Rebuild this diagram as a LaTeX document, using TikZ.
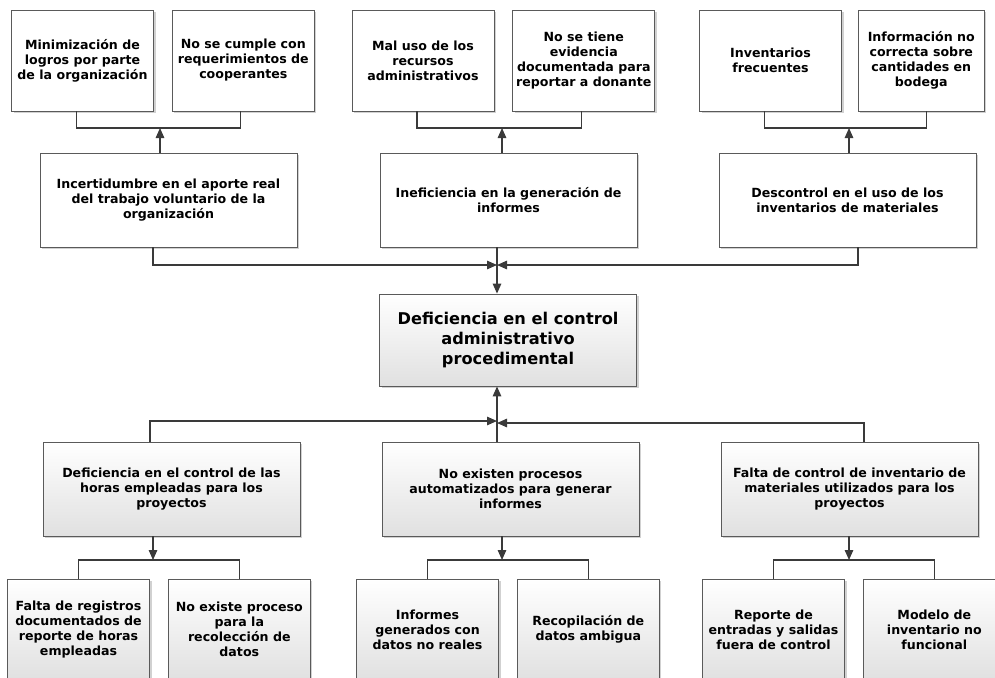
\documentclass[tikz,border=0pt]{standalone}
\usepackage{fontspec}
\setmainfont{DejaVu Sans}
\usetikzlibrary{arrows.meta,positioning,shadows}
\definecolor{linegray}{HTML}{3A3A3A}
\definecolor{boxgray}{HTML}{5A5A5A}

\begin{document}
\begin{tikzpicture}[x=1pt,y=-1pt,
      smallbox/.style={
         draw=boxgray,
         line width=0.8pt,
         fill=white,
         align=center,
         inner sep=1pt,
         minimum width=142pt,
         minimum height=101pt,
         font=\bfseries\fontsize{12.6}{15}\selectfont,
         drop shadow={shadow xshift=2pt,shadow yshift=-2pt,fill=black,opacity=0.18}},
      widebox/.style={smallbox,minimum width=257pt,minimum height=94pt},
      shadedbox/.style={top color=white,bottom color=black!12},
      mainbox/.style={widebox,shadedbox,minimum height=92pt,
         font=\bfseries\fontsize{16.2}{20}\selectfont},
      myarrow/.style={-{Triangle[length=10pt,width=8.5pt]}},
      link/.style={draw=linegray,line width=1.3pt},
      node distance=18pt
      ]
      \useasboundingbox (0,0) rectangle (995,677);
      \clip (0,0) rectangle (995,677);

      % effects
      \node[smallbox] (eA1) at (82.5,60.5) {Minimización de\\logros por parte\\de la organización};
      \node[smallbox,right=of eA1] (eA2) {No se cumple con\\requerimientos de\\cooperantes};
      \node[smallbox] (eB1) at (423,60.5) {Mal uso de los\\recursos\\administrativos};
      \node[smallbox,right=of eB1] (eB2) {No se tiene\\evidencia\\documentada para\\reportar a donante};
      \node[smallbox] (eC1) at (770.5,60.5) {Inventarios\\frecuentes};
      \node[smallbox,minimum width=126pt,right=16pt of eC1] (eC2) {Información no\\correcta sobre\\cantidades en\\bodega};

      \node[widebox] (cA) at (168.5,200) {Incertidumbre en el aporte real\\del trabajo voluntario de la\\organización};
      \node[widebox] (cB) at (508.5,200) {Ineficiencia en la generación de\\informes};
      \node[widebox] (cC) at (847.5,200) {Descontrol en el uso de los\\inventarios de materiales};

      % problem
      \node[mainbox] (core) at (508,340) {Deficiencia en el control\\administrativo\\procedimental};

      % causes
      \node[widebox,shadedbox] (rA) at (171.5,489) {Deficiencia en el control de las\\horas empleadas para los\\proyectos};
      \node[widebox,shadedbox] (rB) at (510.5,489) {No existen procesos\\automatizados para generar\\informes};
      \node[widebox,shadedbox] (rC) at (849.5,489) {Falta de control de inventario de\\materiales utilizados para los\\proyectos};

      \node[smallbox,shadedbox] (lA1) at (78.5,629.5) {Falta de registros\\documentados de\\reporte de horas\\empleadas};
      \node[smallbox,shadedbox,right=of lA1] (lA2) {No existe proceso\\para la\\recolección de\\datos};
      \node[smallbox,shadedbox] (lB1) at (427.5,629.5) {Informes\\generados con\\datos no reales};
      \node[smallbox,shadedbox,right=of lB1] (lB2) {Recopilación de\\datos ambigua};
      \node[smallbox,shadedbox] (lC1) at (773.5,629.5) {Reporte de\\entradas y salidas\\fuera de control};
      \node[smallbox,shadedbox,right=of lC1] (lC2) {Modelo de\\inventario no\\funcional};

      \coordinate (jA) at (160,128);
      \coordinate (jB) at (502,128);
      \coordinate (jC) at (849,128);
      \coordinate (jtop) at (497,265);
      \coordinate (jbot) at (497,422);
      \coordinate (kA) at (153,560);
      \coordinate (kB) at (502,560);
      \coordinate (kC) at (849,560);

    \foreach \l/\r/\j/\c/\dl/\dr in {% left/right/junction/from/shifts
      eA1/eA2/jA/cA/-6/-3,
      eB1/eB2/jB/cB/-6/-2,
      eC1/eC2/jC/cC/-6/5}
      {
       \draw[link] ([xshift=\dl pt]\l.south) |- (\j) -| ([xshift=\dr pt]\r.south);
       \draw[link,myarrow] (\c.north -| \j) -- (\j);
      }

      \draw[link,myarrow] ([xshift=-15.5pt]cA.south) |- (jtop);
      \draw[link,myarrow] ([xshift=10.5pt]cC.south) |- (jtop);
      \draw[link,myarrow] (cB.south -| jtop) -- (core.north -| jtop);

      \draw[link,myarrow] ([xshift=-21.5pt]rA.north) |- ([yshift=1pt]jbot);
      \draw[link,myarrow] ([xshift=14.5pt]rC.north) |- ([yshift=-1pt]jbot);
      \draw[link,myarrow] (rB.north -| jbot) -- (core.south -| jbot);

    \foreach \c/\j/\l/\r in {rA/kA/lA1/lA2, rB/kB/lB1/lB2, rC/kC/lC1/lC2}
      {
       \draw[link,myarrow] (\c.south -| \j) -- (\j);
       \draw[link] (\l.north) |- (\j) -| (\r.north);
      }

    \end{tikzpicture}
\end{document}
